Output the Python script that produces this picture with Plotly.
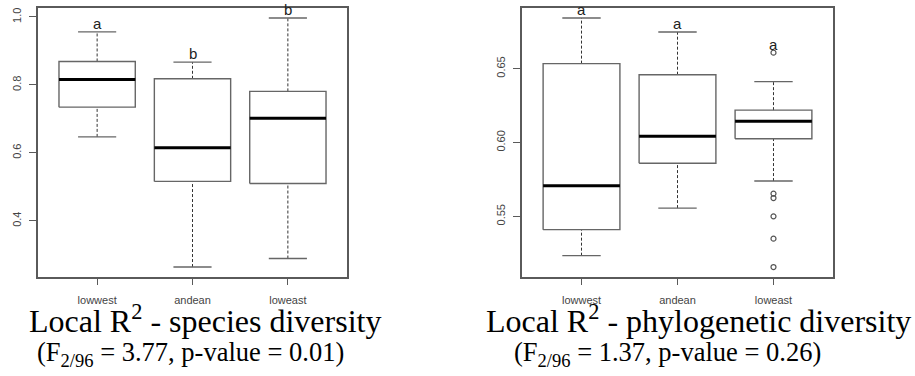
import plotly.graph_objects as go

# Regions on the x axis
regions = ["lowwest", "andean", "loweast"]

# Local R2 - species diversity: five-number summaries per region
sp_lower = [0.647, 0.264, 0.289]
sp_q1 = [0.7345, 0.516, 0.510]
sp_median = [0.816, 0.615, 0.702]
sp_q3 = [0.869, 0.818, 0.781]
sp_upper = [0.956, 0.867, 0.997]
sp_outliers = [[], [], []]
sp_letters = ["a", "b", "b"]
sp_ticks = [0.4, 0.6, 0.8, 1.0]
sp_ticktext = ["0.4", "0.6", "0.8", "1.0"]

# Local R2 - phylogenetic diversity
ph_lower = [0.5234, 0.5556, 0.5739]
ph_q1 = [0.541, 0.586, 0.6025]
ph_median = [0.5708, 0.6043, 0.6144]
ph_q3 = [0.6534, 0.6459, 0.6219]
ph_upper = [0.6843, 0.6748, 0.6412]
ph_outliers = [[], [], [0.6608, 0.5654, 0.5624, 0.550, 0.5349, 0.5157]]
ph_letters = ["a", "a", "a"]
ph_ticks = [0.55, 0.60, 0.65]
ph_ticktext = ["0.55", "0.60", "0.65"]

BOX_HALF = 0.4
CAP_HALF = 0.2
FRAME = "#5a5a5a"
BOX_LINE = "#666666"

fig = go.Figure()


def add_panel(idx, lower, q1, med, q3, upper, outliers, letters):
    xa = "x" if idx == 1 else "x2"
    ya = "y" if idx == 1 else "y2"
    for i, _ in enumerate(regions):
        c = i + 1
        # dashed whiskers
        for a, b in ((q3[i], upper[i]), (lower[i], q1[i])):
            fig.add_trace(go.Scatter(x=[c, c], y=[a, b], mode="lines",
                                     line=dict(color="#333333", width=1, dash="3px,2px"),
                                     xaxis=xa, yaxis=ya, hoverinfo="skip"))
        # whisker caps
        for v in (upper[i], lower[i]):
            fig.add_trace(go.Scatter(x=[c - CAP_HALF, c + CAP_HALF], y=[v, v], mode="lines",
                                     line=dict(color=BOX_LINE, width=1.4),
                                     xaxis=xa, yaxis=ya, hoverinfo="skip"))
        # box
        fig.add_trace(go.Scatter(
            x=[c - BOX_HALF, c + BOX_HALF, c + BOX_HALF, c - BOX_HALF, c - BOX_HALF],
            y=[q1[i], q1[i], q3[i], q3[i], q1[i]], mode="lines",
            line=dict(color=BOX_LINE, width=1.4), xaxis=xa, yaxis=ya, hoverinfo="skip"))
        # median
        fig.add_trace(go.Scatter(x=[c - BOX_HALF, c + BOX_HALF], y=[med[i], med[i]], mode="lines",
                                 line=dict(color="black", width=3),
                                 xaxis=xa, yaxis=ya, hoverinfo="skip"))
        # outliers
        if outliers[i]:
            fig.add_trace(go.Scatter(x=[c] * len(outliers[i]), y=outliers[i], mode="markers",
                                     marker=dict(symbol="circle-open", size=5,
                                                 color="#555555", line=dict(width=1.2)),
                                     xaxis=xa, yaxis=ya, hoverinfo="skip"))
        # significance letter above the highest value
        top = max([upper[i]] + outliers[i])
        fig.add_annotation(x=c, y=top, xref=xa, yref=ya, text=letters[i],
                           showarrow=False, yanchor="bottom", yshift=-2,
                           font=dict(family="Liberation Sans, Arial", size=15, color="#222222"))


add_panel(1, sp_lower, sp_q1, sp_median, sp_q3, sp_upper, sp_outliers, sp_letters)
add_panel(2, ph_lower, ph_q1, ph_median, ph_q3, ph_upper, ph_outliers, ph_letters)


def padded_range(lower, upper, outliers):
    lo = min(lower + [v for o in outliers for v in o])
    hi = max(upper + [v for o in outliers for v in o])
    pad = (hi - lo) * 0.04
    return [lo - pad, hi + pad]


tick_font = dict(family="Liberation Sans, Arial", size=11, color="#444444")
xcommon = dict(range=[0.38, 3.62], tickvals=[1, 2, 3], ticktext=regions,
               showline=True, mirror=True, linecolor=FRAME, linewidth=1.5,
               ticks="outside", ticklen=6, tickcolor=FRAME, tickwidth=1,
               showgrid=False, zeroline=False, tickfont=tick_font,
               ticklabelstandoff=6, fixedrange=True)
ycommon = dict(showline=True, mirror=True, linecolor=FRAME, linewidth=1.5,
               ticks="outside", ticklen=7, tickcolor=FRAME, tickwidth=1,
               showgrid=False, zeroline=False, tickfont=tick_font, tickangle=-90,
               ticklabelstandoff=4, fixedrange=True)

W, H = 915, 376
ydom = [1 - 277 / H, 1 - 8 / H]
fig.update_layout(
    width=W, height=H, margin=dict(l=0, r=0, t=0, b=0),
    paper_bgcolor="white", plot_bgcolor="white", showlegend=False,
    xaxis=dict(domain=[38 / W, 347 / W], anchor="y", **xcommon),
    yaxis=dict(domain=ydom, anchor="x", range=padded_range(sp_lower, sp_upper, sp_outliers),
               tickvals=sp_ticks, ticktext=sp_ticktext, **ycommon),
    xaxis2=dict(domain=[522 / W, 833 / W], anchor="y2", **xcommon),
    yaxis2=dict(domain=ydom, anchor="x2", range=padded_range(ph_lower, ph_upper, ph_outliers),
                tickvals=ph_ticks, ticktext=ph_ticktext, **ycommon),
)

serif = "Liberation Serif, Times New Roman"
captions = [
    (205 / W, "Local R<sup>2</sup> - species diversity", 190 / W,
     "(F<sub>2/96</sub> = 3.77, p-value = 0.01)"),
    (698 / W, "Local R<sup>2</sup> - phylogenetic diversity", 667 / W,
     "(F<sub>2/96</sub> = 1.37, p-value = 0.26)"),
]
for tx, title, sx, sub in captions:
    fig.add_annotation(x=tx, y=1 - 341 / H, xref="paper", yref="paper", text=title,
                       showarrow=False, xanchor="center", yanchor="bottom",
                       font=dict(family=serif, size=32, color="black"))
    fig.add_annotation(x=sx, y=1 - 373 / H, xref="paper", yref="paper", text=sub,
                       showarrow=False, xanchor="center", yanchor="bottom",
                       font=dict(family=serif, size=26.5, color="black"))

fig.write_html("out.html")
